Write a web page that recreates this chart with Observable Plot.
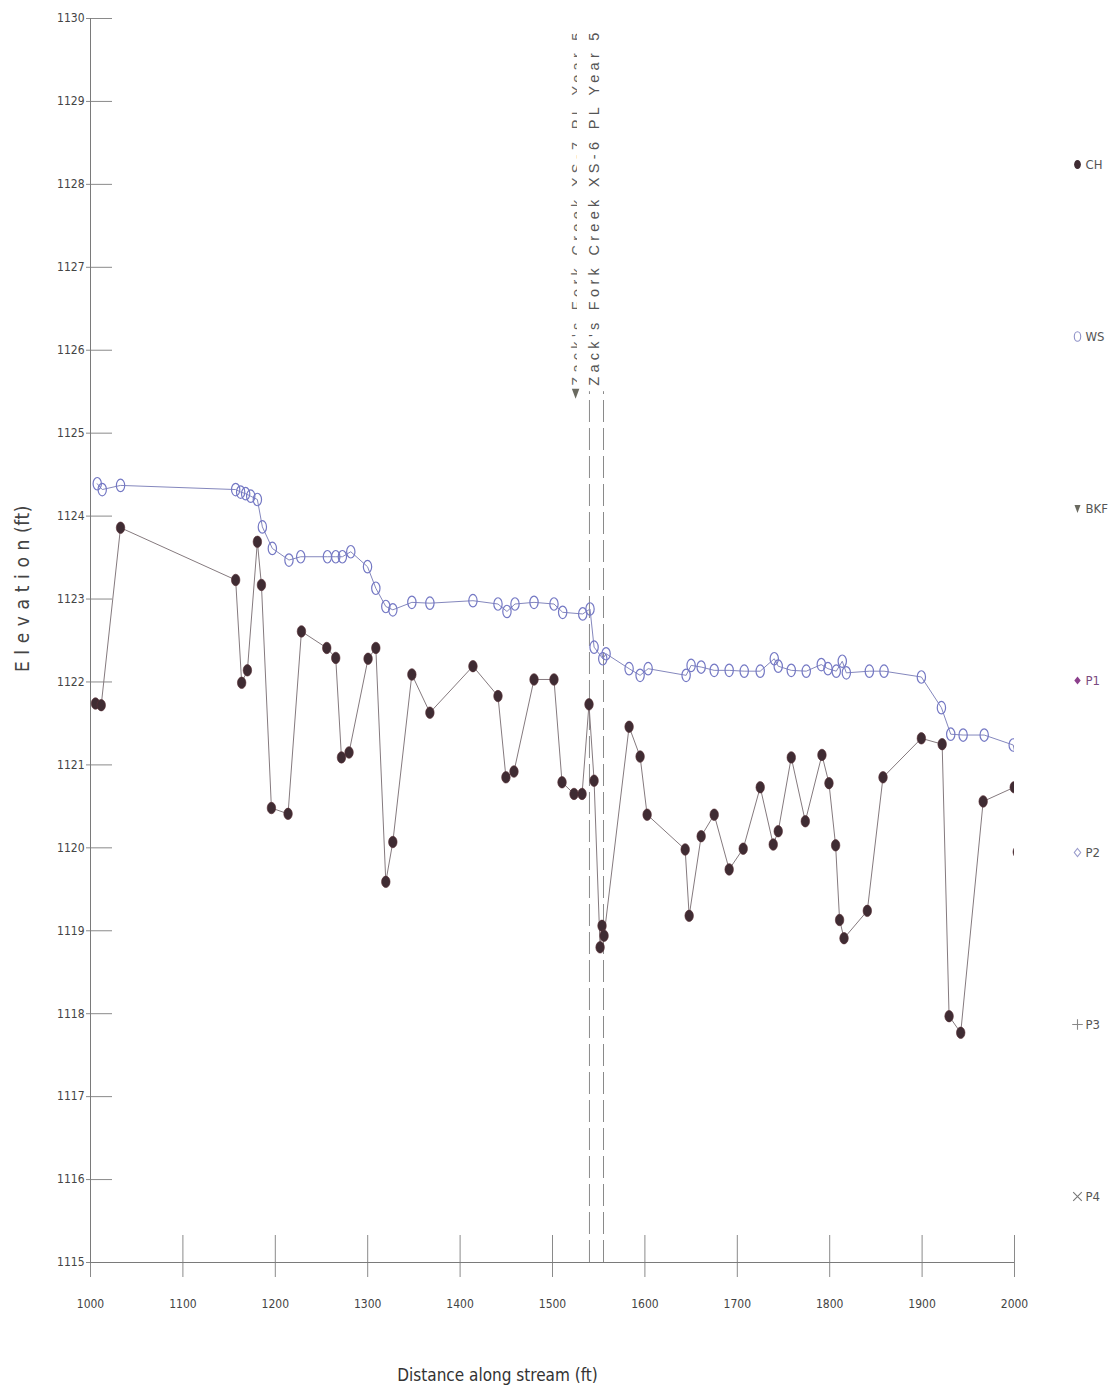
<!DOCTYPE html>
<html>
<head>
<meta charset="utf-8">
<script src="https://cdn.jsdelivr.net/npm/d3@7"></script>
<script src="https://cdn.jsdelivr.net/npm/@observablehq/plot@0.6"></script>
<style>
  body { margin: 0; background: #fff; }
  #wrap { position: relative; width: 1110px; height: 1400px; }
  #legend { position: absolute; left: 1060px; top: 152px; }
  g[aria-description="y-title"] text { letter-spacing: 0.6px; }
  g[aria-description="xs-label"] text, g[aria-description="xs-label-back"] text { letter-spacing: 4.3px; }
</style>
</head>
<body>
<div id="wrap"></div>
<script>
// Longitudinal profile: channel bed (CH) and water surface (WS) along the stream
const narrowFont = '"Liberation Sans Narrow", "DejaVu Sans Condensed", "Arial Narrow", sans-serif';

// Channel bed thalweg points (station ft, elevation ft)
const chStation = [1005.4, 1011.6, 1032.5, 1157.1, 1163.6, 1169.8, 1180.6, 1185.0, 1195.8, 1213.8,
  1228.3, 1255.7, 1265.4, 1271.6, 1279.8, 1300.4, 1308.8, 1319.6, 1327.2, 1347.8,
  1367.3, 1413.9, 1441.0, 1449.6, 1458.3, 1480.0, 1501.6, 1510.3, 1523.3, 1532.0,
  1539.5, 1545.0, 1551.5, 1553.6, 1555.8, 1582.9, 1594.8, 1602.4, 1643.6, 1647.9,
  1660.9, 1675.0, 1691.2, 1706.4, 1724.8, 1738.9, 1744.3, 1758.4, 1773.6, 1791.6,
  1799.2, 1806.4, 1810.7, 1815.5, 1840.7, 1857.7, 1899.2, 1921.7, 1929.2, 1941.8,
  1966.1, 1999.7, 2003.0];
const chElev = [1121.74, 1121.72, 1123.86, 1123.23, 1121.99, 1122.14, 1123.69, 1123.17, 1120.48, 1120.41,
  1122.61, 1122.41, 1122.29, 1121.09, 1121.15, 1122.28, 1122.41, 1119.59, 1120.07, 1122.09,
  1121.63, 1122.19, 1121.83, 1120.85, 1120.92, 1122.03, 1122.03, 1120.79, 1120.65, 1120.65,
  1121.73, 1120.81, 1118.80, 1119.06, 1118.94, 1121.46, 1121.10, 1120.40, 1119.98, 1119.18,
  1120.14, 1120.40, 1119.74, 1119.99, 1120.73, 1120.04, 1120.20, 1121.09, 1120.32, 1121.12,
  1120.78, 1120.03, 1119.13, 1118.91, 1119.24, 1120.85, 1121.32, 1121.25, 1117.97, 1117.77,
  1120.56, 1120.73, 1119.95];

// Water surface points
const wsStation = [1007.3, 1012.7, 1032.5, 1157.1, 1162.5, 1167.9, 1173.4, 1180.6, 1186.0, 1196.8,
  1214.8, 1227.5, 1256.4, 1265.4, 1272.6, 1281.7, 1299.8, 1308.8, 1319.6, 1327.2,
  1347.8, 1367.3, 1413.9, 1441.0, 1450.7, 1459.4, 1480.0, 1501.6, 1511.0, 1532.7,
  1540.6, 1545.0, 1554.4, 1558.0, 1582.9, 1594.8, 1603.5, 1644.6, 1650.0, 1660.9,
  1675.0, 1691.2, 1707.5, 1724.8, 1740.0, 1744.3, 1758.4, 1774.6, 1790.9, 1798.1,
  1807.1, 1813.6, 1818.0, 1842.9, 1858.8, 1899.2, 1920.9, 1931.0, 1944.4, 1967.2,
  1998.6, 2006.0];
const wsElev = [1124.39, 1124.32, 1124.37, 1124.32, 1124.29, 1124.27, 1124.24, 1124.20, 1123.87, 1123.61,
  1123.47, 1123.51, 1123.51, 1123.51, 1123.51, 1123.57, 1123.39, 1123.13, 1122.91, 1122.87,
  1122.96, 1122.95, 1122.98, 1122.94, 1122.85, 1122.94, 1122.96, 1122.94, 1122.84, 1122.82,
  1122.88, 1122.42, 1122.28, 1122.34, 1122.16, 1122.08, 1122.16, 1122.08, 1122.20, 1122.18,
  1122.14, 1122.14, 1122.13, 1122.13, 1122.28, 1122.19, 1122.14, 1122.13, 1122.21, 1122.16,
  1122.13, 1122.25, 1122.11, 1122.13, 1122.13, 1122.06, 1121.69, 1121.37, 1121.36, 1121.36,
  1121.24, 1120.85];

// Bankfull indicator
const bkfStation = [1525.0];
const bkfElev = [1125.48];

// Cross-section locations
const xsNames = ["Zack's Fork Creek XS-7 PL Year 5", "Zack's Fork Creek XS-6 PL Year 5"];
const xsStations = [1540.0, 1555.2];
const xsTop = 1125.5;

// Axis ticks
const xDomain = [1000, 2000];
const yDomain = [1115, 1130];
const xTicks = [1000, 1100, 1200, 1300, 1400, 1500, 1600, 1700, 1800, 1900, 2000];
const yTicks = [1115, 1116, 1117, 1118, 1119, 1120, 1121, 1122, 1123, 1124, 1125, 1126, 1127, 1128, 1129, 1130];

// Legend entries
const legendNames = ["CH", "WS", "BKF", "P1", "P2", "P3", "P4"];

const ch = chStation.map((s, i) => ({station: s, elev: chElev[i]}));
const ws = wsStation.map((s, i) => ({station: s, elev: wsElev[i]}));
const bkf = bkfStation.map((s, i) => ({station: s, elev: bkfElev[i]}));
const xs = xsNames.map((n, i) => ({name: n, station: xsStations[i]}));

// Slightly tall oval marker
function oval(kx, ky) {
  return {
    draw(ctx, size) {
      const r = Math.sqrt(size / Math.PI), rx = r * kx, ry = r * ky, c = 0.5523;
      ctx.moveTo(rx, 0);
      ctx.bezierCurveTo(rx, c * ry, c * rx, ry, 0, ry);
      ctx.bezierCurveTo(-c * rx, ry, -rx, c * ry, -rx, 0);
      ctx.bezierCurveTo(-rx, -c * ry, -c * rx, -ry, 0, -ry);
      ctx.bezierCurveTo(c * rx, -ry, rx, -c * ry, rx, 0);
      ctx.closePath();
    }
  };
}
// Downward pointing triangle
const triDown = {
  draw(ctx, size) {
    const r = Math.sqrt(size / Math.PI);
    ctx.moveTo(-r * 0.75, -r * 0.9);
    ctx.lineTo(r * 0.75, -r * 0.9);
    ctx.lineTo(0, r * 1.1);
    ctx.closePath();
  }
};
const diamond = {
  draw(ctx, size) {
    const r = Math.sqrt(size / Math.PI);
    ctx.moveTo(0, -r); ctx.lineTo(r * 0.8, 0); ctx.lineTo(0, r); ctx.lineTo(-r * 0.8, 0); ctx.closePath();
  }
};

const chOval = oval(0.85, 1.15);
const wsOval = oval(0.8, 1.2);

const chart = Plot.plot({
  width: 1110,
  height: 1400,
  marginLeft: 90,
  marginRight: 96,
  marginTop: 18,
  marginBottom: 138,
  style: {fontFamily: narrowFont, fontSize: "12px", color: "#444", background: "#fff"},
  x: {domain: xDomain},
  y: {domain: yDomain},
  marks: [
    Plot.axisX(xTicks, {tickSize: 42, dy: -27, tickPadding: 22, tickFormat: d => String(d), stroke: "#8a8a8a", fill: "#444", label: null}),
    Plot.axisY(yTicks, {tickSize: 26, dx: 22, tickPadding: 2, tickFormat: d => String(d), stroke: "#8a8a8a", fill: "#444", label: null}),
    Plot.ruleX([xDomain[0]], {stroke: "#7a7a7a"}),
    Plot.ruleY([yDomain[0]], {stroke: "#7a7a7a"}),
    // cross-section markers
    Plot.ruleX(xs, {x: "station", y1: yDomain[0], y2: xsTop, stroke: "#8a8a8a", strokeDasharray: "22,6"}),
    Plot.text(xs.slice(0, 1), {x: "station", y: xsTop, text: "name", rotate: -90, textAnchor: "start", dx: -12, dy: -6, fontSize: 14.5, fill: "#666", fontFamily: "Liberation Sans, Arial, sans-serif", ariaDescription: "xs-label-back"}),
    Plot.text(xs.slice(1), {x: "station", y: xsTop, text: "name", rotate: -90, textAnchor: "start", dx: -9, dy: -6, fontSize: 14.5, fill: "#555", fontFamily: "Liberation Sans, Arial, sans-serif", ariaDescription: "xs-label"}),
    Plot.dot(bkf, {x: "station", y: "elev", symbol: triDown, r: 5, fill: "#6a6a60", stroke: "none"}),
    // water surface
    Plot.line(ws, {x: "station", y: "elev", stroke: "#8487bd", strokeWidth: 1, clip: true}),
    Plot.dot(ws, {x: "station", y: "elev", symbol: wsOval, r: 5.2, stroke: "#7478c4", strokeWidth: 1.2, fill: "none", clip: true}),
    // channel bed
    Plot.line(ch, {x: "station", y: "elev", stroke: "#857a7e", strokeWidth: 1, clip: true}),
    Plot.dot(ch, {x: "station", y: "elev", symbol: chOval, r: 5, fill: "#3f2c33", stroke: "#5a3038", strokeWidth: 0.6, clip: true}),
    // axis titles
    Plot.text(["Distance along stream (ft)"], {frameAnchor: "bottom", dy: 118, dx: -55, fontSize: 17, fill: "#333"}),
    Plot.text(["E l e v a t i o n (ft)"], {frameAnchor: "left", textAnchor: "middle", rotate: -90, dx: -68, dy: -52, fontSize: 19, fill: "#444", ariaDescription: "y-title"})
  ]
});

// Only the upper half of the XS-7 label glyphs remains visible behind the XS-6 label
{
  const sx = chart.scale("x");
  const cutX = sx.apply(xsStations[0]) - 12;
  const ns = "http://www.w3.org/2000/svg";
  const defs = document.createElementNS(ns, "defs");
  const cp = document.createElementNS(ns, "clipPath");
  cp.setAttribute("id", "xs7-clip");
  cp.setAttribute("clipPathUnits", "userSpaceOnUse");
  const rect = document.createElementNS(ns, "rect");
  rect.setAttribute("x", 0); rect.setAttribute("y", 0);
  rect.setAttribute("width", cutX); rect.setAttribute("height", 1400);
  cp.appendChild(rect); defs.appendChild(cp);
  chart.insertBefore(defs, chart.firstChild);
  const markGroup = chart.querySelector('g[aria-description="xs-label-back"]');
  if (markGroup) {
    const holder = document.createElementNS(ns, "g");
    holder.setAttribute("clip-path", "url(#xs7-clip)");
    markGroup.parentNode.insertBefore(holder, markGroup);
    holder.appendChild(markGroup);
  }
}

const legendSpec = [
  {name: "CH", symbol: chOval, fill: "#3f2c33", stroke: "none", r: 4, text: "#555"},
  {name: "WS", symbol: wsOval, fill: "none", stroke: "#8f92c8", r: 4, text: "#555"},
  {name: "BKF", symbol: triDown, fill: "#6a6a60", stroke: "none", r: 4, text: "#555"},
  {name: "P1", symbol: diamond, fill: "#8c3f8c", stroke: "none", r: 4, text: "#7a4a80"},
  {name: "P2", symbol: diamond, fill: "none", stroke: "#9a9ccc", r: 4, text: "#555"},
  {name: "P3", symbol: "plus", fill: "none", stroke: "#888", r: 3.5, text: "#555"},
  {name: "P4", symbol: "times", fill: "none", stroke: "#777", r: 4, text: "#555"}
];

const legend = Plot.plot({
  width: 50,
  height: 1055,
  marginTop: 10,
  marginBottom: 10,
  marginLeft: 0,
  marginRight: 0,
  style: {fontFamily: narrowFont, fontSize: "13px", background: "transparent", overflow: "visible"},
  y: {domain: legendNames, type: "point", padding: 0, axis: null},
  marks: [
    ...legendSpec.map(d => Plot.dot([d], {y: "name", frameAnchor: "left", dx: 17, symbol: d.symbol, r: d.r, fill: d.fill, stroke: d.stroke, strokeWidth: 1.1})),
    ...legendSpec.map(d => Plot.text([d], {y: "name", text: "name", frameAnchor: "left", dx: 25, textAnchor: "start", fill: d.text, fontSize: 13}))
  ]
});
legend.id = "legend";

const wrap = document.getElementById("wrap");
wrap.appendChild(chart);
wrap.appendChild(legend);
</script>
</body>
</html>
